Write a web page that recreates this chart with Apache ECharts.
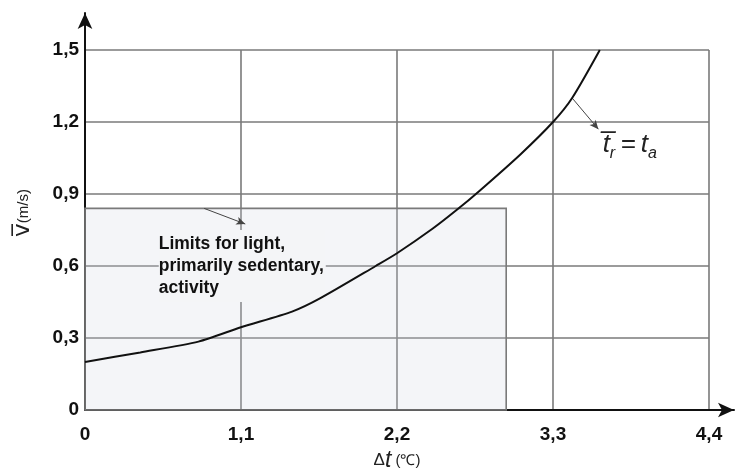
<!DOCTYPE html>
<html>
<head>
<meta charset="utf-8">
<style>
  html, body { margin: 0; padding: 0; background: #fff; }
  #chart { width: 738px; height: 468px; }
</style>
<script src="https://cdn.jsdelivr.net/npm/echarts@6/dist/echarts.min.js"></script>
</head>
<body>
<div id="chart"></div>
<script>
// Temperature difference (°C) vs. mean air speed (m/s) along the curve t̄r = ta
const deltaT   = [0, 0.39, 0.8, 1.1, 1.46, 1.66, 2.05, 2.2, 2.45, 2.62, 2.785, 3.07, 3.3, 3.435, 3.63];
const velocity = [0.2, 0.24, 0.285, 0.345, 0.41, 0.466, 0.6, 0.653, 0.755, 0.833, 0.915, 1.065, 1.2, 1.3, 1.5];

// Limits box for light, primarily sedentary activity
const limitDeltaT = 2.97;
const limitVelocity = 0.84;

// Tick labels
const xTickLabels = ['0', '1,1', '2,2', '3,3', '4,4'];
const yTickLabels = ['0', '0,3', '0,6', '0,9', '1,2', '1,5'];

// Annotation anchors (data coordinates)
const limitsNote = { text: 'Limits for light,\nprimarily sedentary,\nactivity', at: [0.52, 0.6] };
const limitsArrow = { from: [0.84, limitVelocity], to: [1.13, 0.775] };
const curveArrow = { from: [3.435, 1.3], to: [3.62, 1.17] };
const curveNoteAt = [3.65, 1.105];

const curve = deltaT.map((x, i) => [x, velocity[i]]);

const FONT = 'Liberation Sans, Arial, sans-serif';
const GRID_COLOR = '#7a7a7a';

const chart = echarts.init(document.getElementById('chart'), null, { renderer: 'canvas' });

chart.setOption({
  animation: false,
  backgroundColor: '#ffffff',
  grid: [
    { left: 85, right: 29, top: 50, bottom: 58, containLabel: false, outerBoundsMode: 'none' },
    { left: 85, right: 4, top: 13, bottom: 58, containLabel: false, outerBoundsMode: 'none' }
  ],
  xAxis: [
    {
      type: 'value', gridIndex: 0, min: 0, max: 4.4, interval: 1.1,
      axisLine: { show: false },
      axisTick: { show: false },
      splitLine: { show: true, lineStyle: { color: GRID_COLOR, width: 1.6 } },
      axisLabel: {
        margin: 15, color: '#111', fontFamily: FONT, fontWeight: 'bold', fontSize: 19,
        formatter: (v, i) => xTickLabels[Math.round(v / 1.1)]
      },
      name: '{d|Δ}{t|t}{u| (℃)}',
      nameLocation: 'middle', nameGap: 35,
      nameTextStyle: {
        rich: {
          d: { fontFamily: FONT, fontSize: 17, color: '#222' },
          t: { fontFamily: FONT, fontSize: 23, fontStyle: 'italic', color: '#222' },
          u: { fontFamily: FONT, fontSize: 15, color: '#222' }
        }
      }
    },
    {
      type: 'value', gridIndex: 1, min: 0, max: 1,
      axisLine: { show: true, symbol: ['none', 'arrow'], symbolSize: [11, 16],
        lineStyle: { color: '#111', width: 2 } },
      axisTick: { show: false }, axisLabel: { show: false }, splitLine: { show: false }
    }
  ],
  yAxis: [
    {
      type: 'value', gridIndex: 0, min: 0, max: 1.5, interval: 0.3,
      axisLine: { show: false },
      axisTick: { show: false },
      splitLine: { show: true, lineStyle: { color: GRID_COLOR, width: 1.6 } },
      axisLabel: {
        margin: 6, color: '#111', fontFamily: FONT, fontWeight: 'bold', fontSize: 19,
        formatter: (v, i) => yTickLabels[Math.round(v / 0.3)]
      },
      name: '{v|v\u0305}{u|(m/s)}',
      nameLocation: 'middle', nameGap: 50, nameRotate: 90,
      nameTextStyle: {
        padding: [0, 0, 0, 34],
        rich: {
          v: { fontFamily: 'DejaVu Sans, sans-serif', fontSize: 23, color: '#222' },
          u: { fontFamily: FONT, fontSize: 15, color: '#222' }
        }
      }
    },
    {
      type: 'value', gridIndex: 1, min: 0, max: 1,
      axisLine: { show: true, symbol: ['none', 'arrow'], symbolSize: [11, 16],
        lineStyle: { color: '#111', width: 2 } },
      axisTick: { show: false }, axisLabel: { show: false }, splitLine: { show: false }
    }
  ],
  series: [
    {
      // Shaded limits region plus its annotations
      type: 'line', xAxisIndex: 0, yAxisIndex: 0, data: [],
      silent: true,
      markArea: {
        silent: true,
        itemStyle: { color: 'rgba(205,210,222,0.22)', borderColor: '#7a7a7a', borderWidth: 1.6 },
        label: { show: false },
        data: [[{ coord: [0, 0] }, { coord: [limitDeltaT, limitVelocity] }]]
      },
      markLine: {
        silent: true,
        symbol: ['none', 'arrow'], symbolSize: [6, 9],
        label: { show: false },
        lineStyle: { color: '#444', width: 1, type: 'solid' },
        data: [
          [{ coord: limitsArrow.from }, { coord: limitsArrow.to }],
          [{ coord: curveArrow.from }, { coord: curveArrow.to }]
        ]
      },
      markPoint: {
        silent: true,
        symbol: 'circle', symbolSize: 0,
        data: [
          {
            coord: limitsNote.at,
            label: {
              show: true, position: 'right', distance: 0, align: 'left', verticalAlign: 'middle',
              formatter: limitsNote.text,
              fontFamily: FONT, fontWeight: 'bold', fontSize: 17.5, lineHeight: 22,
              color: '#111', backgroundColor: '#f4f5f7', padding: [3, 2, 3, 0]
            }
          },
          {
            coord: curveNoteAt,
            label: {
              show: true, position: 'right', distance: 0, align: 'left', verticalAlign: 'middle',
              formatter: '{t|t\u0305}{s|r}{e|\u2009=\u2009t}{s|a}',
              rich: {
                t: { fontFamily: FONT, fontStyle: 'italic', fontSize: 26, color: '#222', verticalAlign: 'bottom' },
                e: { fontFamily: FONT, fontStyle: 'italic', fontSize: 26, color: '#222', verticalAlign: 'bottom' },
                s: { fontFamily: FONT, fontStyle: 'italic', fontSize: 16, color: '#222', verticalAlign: 'bottom', padding: [0, 0, -4, 0] }
              }
            }
          }
        ]
      }
    },
    {
      name: 't̄r = ta',
      type: 'line', xAxisIndex: 0, yAxisIndex: 0,
      data: curve,
      smooth: 0.25,
      showSymbol: false,
      lineStyle: { color: '#111', width: 2 },
      z: 5
    }
  ]
});
</script>
</body>
</html>
